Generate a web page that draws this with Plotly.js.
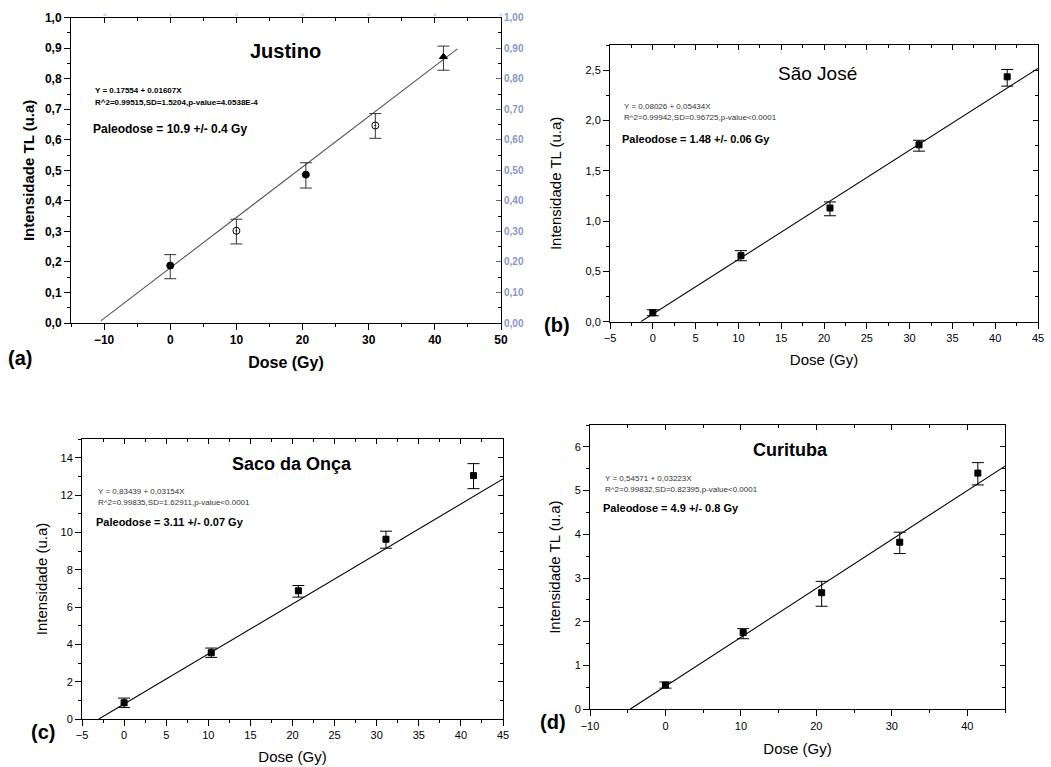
<!DOCTYPE html>
<html>
<head>
<meta charset="utf-8">
<script src="https://cdn.plot.ly/plotly-3.0.1.min.js"></script>
<style>
html,body{margin:0;padding:0;background:#fff;}
#chart{width:1051px;height:767px;}
</style>
</head>
<body>
<div id="chart"></div>
<script>
// ---------- data ----------
// (a) Justino
const doseA   = [0, 10, 20.5, 31, 41.3];
const tlA     = [0.188, 0.302, 0.486, 0.647, 0.872];
const errUpA  = [0.036, 0.038, 0.039, 0.039, 0.035];
const errDnA  = [0.043, 0.043, 0.044, 0.042, 0.044];
const fitXA   = [-10.5, 43.4];
const fitYA   = [0.007, 0.898];
// (b) São José
const doseB   = [0, 10.3, 20.7, 31.1, 41.4];
const tlB     = [0.089, 0.656, 1.13, 1.758, 2.434];
const errUpB  = [0.03, 0.05, 0.06, 0.045, 0.073];
const errDnB  = [0.03, 0.05, 0.077, 0.063, 0.093];
const fitXB   = [-1.4, 45];
const fitYB   = [0, 2.517];
// (c) Saco da Onça
const doseC   = [0, 10.35, 20.7, 31.1, 41.5];
const tlC     = [0.87, 3.55, 6.87, 9.63, 13.04];
const errUpC  = [0.25, 0.25, 0.28, 0.43, 0.64];
const errDnC  = [0.25, 0.25, 0.34, 0.48, 0.70];
const fitXC   = [-3.0, 45];
const fitYC   = [0, 12.86];
// (d) Curituba
const doseD   = [0, 10.3, 20.7, 31.05, 41.4];
const tlD     = [0.554, 1.754, 2.666, 3.82, 5.40];
const errUpD  = [0.07, 0.09, 0.26, 0.23, 0.24];
const errDnD  = [0.07, 0.14, 0.31, 0.26, 0.27];
const fitXD   = [-4.7, 45];
const fitYD   = [0, 5.56];

const titles   = ['Justino', 'São José', 'Saco da Onça', 'Curituba'];
const eqTexts  = ['Y = 0.17554 + 0.01607X', 'Y = 0,08026 + 0,05434X', 'Y = 0,83439 + 0,03154X', 'Y = 0,54571 + 0,03223X'];
const statTexts= ['R^2=0.99515,SD=1.5204,p-value=4.0538E-4', 'R^2=0.99942,SD=0.96725,p-value<0.0001', 'R^2=0.99835,SD=1.62911,p-value<0.0001', 'R^2=0.99832,SD=0.82395,p-value<0.0001'];
const paleoTexts = ['Paleodose = 10.9 +/- 0.4 Gy', 'Paleodose = 1.48 +/- 0.06 Gy', 'Paleodose = 3.11 +/- 0.07 Gy', 'Paleodose = 4.9 +/- 0.8 Gy'];
const yTitles  = ['Intensidade TL (u.a)', 'Intensidade TL (u.a)', 'Intensidade (u.a)', 'Intensidade TL (u.a)'];
const xTitle   = 'Dose (Gy)';
const panelLabels = ['(a)', '(b)', '(c)', '(d)'];

// ---------- layout helpers ----------
const W = 1051, H = 767;
const fx = p => p / W;
const fy = p => 1 - p / H;
const FONT = 'Liberation Sans, Arial, Helvetica, sans-serif';

const panels = [
  {dose: doseA, tl: tlA, up: errUpA, dn: errDnA, fx_: fitXA, fy_: fitYA,
   box: [71, 501, 17.7, 323], xr: [-15, 50], yr: [0, 1.0], xd: 10, xm: 5, yd: 0.1, ym: 0.05, yfmt: '.1f',
   bold: true, titleSize: 20, titleBold: true, titlePos: [285, 51],
   eqPos: [93, 90, 102, 129], eqSize: 8, paleoSize: 12, labelPos: [20, 358], xTitlePos: 10, yStand: 6,
   tickSize: 12, axTitleSize: 15, lineColor: '#555', symbols: ['circle', 'circle-open-dot', 'circle', 'circle-open-dot', 'triangle-up'], msize: 7, errColor: '#333'},
  {dose: doseB, tl: tlB, up: errUpB, dn: errDnB, fx_: fitXB, fy_: fitYB,
   box: [610, 1038, 45, 321.7], xr: [-5, 45], yr: [0, 2.75], xd: 5, xm: 2.5, yd: 0.5, ym: 0.25, yfmt: '.1f',
   bold: false, titleSize: 19, titleBold: false, titlePos: [817, 74],
   eqPos: [622, 106, 117, 139], eqSize: 8, paleoSize: 11, labelPos: [557, 325], xTitlePos: 11, yStand: 20,
   tickSize: 11, axTitleSize: 15, lineColor: '#000', symbols: 'square', msize: 6, errColor: '#000'},
  {dose: doseC, tl: tlC, up: errUpC, dn: errDnC, fx_: fitXC, fy_: fitYC,
   box: [82, 503, 439, 719], xr: [-5, 45], yr: [0, 15], xd: 5, xm: 2.5, yd: 2, ym: 1, yfmt: 'd',
   bold: false, titleSize: 18, titleBold: true, titlePos: [292, 464],
   eqPos: [96, 491, 502, 522], eqSize: 8, paleoSize: 11, labelPos: [43, 732], xTitlePos: 11, yStand: 9,
   tickSize: 11, axTitleSize: 15, lineColor: '#000', symbols: 'square', msize: 6, errColor: '#000'},
  {dose: doseD, tl: tlD, up: errUpD, dn: errDnD, fx_: fitXD, fy_: fitYD,
   box: [590, 1005, 425, 709.3], xr: [-10, 45], yr: [0, 6.5], xd: 10, xm: 5, yd: 1, ym: 0.5, yfmt: 'd',
   bold: false, titleSize: 18, titleBold: true, titlePos: [790, 450],
   eqPos: [603, 478, 489, 508], eqSize: 8, paleoSize: 11, labelPos: [553, 722], xTitlePos: 12, yStand: 10,
   tickSize: 11, axTitleSize: 15, lineColor: '#000', symbols: 'square', msize: 6, errColor: '#000'}
];

const axName = (c, id) => (id === 1 ? c : c + id);
const axKey = (c, id) => (id === 1 ? c + 'axis' : c + 'axis' + id);

const data = [];
const layout = {
  width: W, height: H,
  margin: {l: 0, r: 0, t: 0, b: 0},
  paper_bgcolor: '#fff', plot_bgcolor: 'rgba(0,0,0,0)',
  showlegend: false,
  separators: ',.',
  font: {family: FONT, color: '#000'},
  annotations: []
};

panels.forEach((p, k) => {
  const mx = 2 * k + 1, tx = 2 * k + 2;
  const my = 2 * k + 1, ry = 2 * k + 2;
  const xdom = [fx(p.box[0]), fx(p.box[1])];
  const ydom = [fy(p.box[3]), fy(p.box[2])];
  const weight = p.bold ? 'bold' : 'normal';
  const tickfont = {family: FONT, size: p.tickSize, color: '#000', weight: weight};

  // fitted line
  data.push({type: 'scatter', mode: 'lines', x: p.fx_, y: p.fy_,
    xaxis: axName('x', mx), yaxis: axName('y', my),
    line: {color: p.lineColor, width: 1.1}, hoverinfo: 'skip'});
  // measured points with error bars
  data.push({type: 'scatter', mode: 'markers', x: p.dose, y: p.tl,
    xaxis: axName('x', mx), yaxis: axName('y', my),
    marker: {symbol: p.symbols, size: p.msize, color: '#000', line: {color: '#000', width: 1}},
    error_y: {type: 'data', symmetric: false, array: p.up, arrayminus: p.dn,
      color: p.errColor, thickness: 1, width: 6}});
  // invisible copy so that the mirror (top / right) axes are drawn
  data.push({type: 'scatter', mode: 'markers', x: p.dose, y: p.tl,
    xaxis: axName('x', tx), yaxis: axName('y', ry),
    marker: {size: 1, opacity: 0}, hoverinfo: 'skip'});

  layout[axKey('x', mx)] = {
    domain: xdom, anchor: axName('y', my), range: p.xr,
    showline: true, linecolor: '#000', linewidth: 1, mirror: false,
    ticks: 'outside', ticklen: 6, tickwidth: 1, tickcolor: '#000',
    tick0: 0, dtick: p.xd,
    minor: {ticks: 'outside', ticklen: 3, tickwidth: 1, tickcolor: '#000', dtick: p.xm, tick0: 0, showgrid: false},
    showgrid: false, zeroline: false, tickfont: tickfont, automargin: false,
    title: {text: xTitle, font: {family: FONT, size: p.axTitleSize + (p.bold ? 1 : 0), weight: weight, color: '#000'}, standoff: p.xTitlePos}
  };
  layout[axKey('x', tx)] = {
    overlaying: axName('x', mx), anchor: axName('y', ry), side: 'top', range: p.xr,
    showline: true, linecolor: '#000', linewidth: 1,
    ticks: 'inside', ticklen: 5, tickwidth: 1, tickcolor: '#000', tick0: 0, dtick: p.xd,
    minor: {ticks: 'inside', ticklen: 3, tickwidth: 1, tickcolor: '#000', dtick: p.xm, tick0: 0, showgrid: false},
    showgrid: false, zeroline: false, automargin: false,
    showticklabels: k === 0,
    tickfont: {family: FONT, size: 3, color: '#7fa3d6'}
  };
  layout[axKey('y', my)] = {
    domain: ydom, anchor: axName('x', mx), range: p.yr,
    showline: true, linecolor: '#000', linewidth: 1, mirror: false,
    ticks: 'outside', ticklen: 6, tickwidth: 1, tickcolor: '#000',
    tick0: 0, dtick: p.yd, tickformat: p.yfmt,
    minor: {ticks: 'outside', ticklen: 3, tickwidth: 1, tickcolor: '#000', dtick: p.ym, tick0: 0, showgrid: false},
    showgrid: false, zeroline: false, tickfont: tickfont, automargin: false,
    title: {text: yTitles[k], font: {family: FONT, size: p.axTitleSize, weight: weight, color: '#000'}, standoff: p.yStand}
  };
  layout[axKey('y', ry)] = {
    overlaying: axName('y', my), anchor: axName('x', tx), side: 'right', range: p.yr,
    showline: true, linecolor: '#000', linewidth: 1,
    ticks: 'inside', ticklen: 5, tickwidth: 1, tickcolor: k === 0 ? '#666' : '#000', tick0: 0, dtick: p.yd,
    minor: {ticks: 'inside', ticklen: 3, tickwidth: 1, tickcolor: '#000', dtick: p.ym, tick0: 0, showgrid: false},
    showgrid: false, zeroline: false, automargin: false,
    showticklabels: k === 0, tickformat: '.2f',
    tickfont: {family: FONT, size: 10, color: '#8796c4', weight: 'bold'}
  };

  // text annotations
  layout.annotations.push({xref: 'paper', yref: 'paper', x: fx(p.titlePos[0]), y: fy(p.titlePos[1]),
    xanchor: 'center', yanchor: 'middle', showarrow: false, text: titles[k],
    font: {family: FONT, size: p.titleSize, weight: p.titleBold ? 'bold' : 'normal', color: '#000'}});
  layout.annotations.push({xref: 'paper', yref: 'paper', x: fx(p.eqPos[0]), y: fy(p.eqPos[1]),
    xanchor: 'left', yanchor: 'middle', showarrow: false, text: eqTexts[k],
    font: {family: FONT, size: p.eqSize, weight: weight, color: p.bold ? '#000' : '#333'}});
  layout.annotations.push({xref: 'paper', yref: 'paper', x: fx(p.eqPos[0]), y: fy(p.eqPos[2]),
    xanchor: 'left', yanchor: 'middle', showarrow: false, text: statTexts[k],
    font: {family: FONT, size: p.eqSize, weight: weight, color: p.bold ? '#000' : '#333'}});
  layout.annotations.push({xref: 'paper', yref: 'paper', x: fx(p.eqPos[0] - 2), y: fy(p.eqPos[3]),
    xanchor: 'left', yanchor: 'middle', showarrow: false, text: paleoTexts[k],
    font: {family: FONT, size: p.paleoSize, weight: 'bold', color: '#000'}});
  layout.annotations.push({xref: 'paper', yref: 'paper', x: fx(p.labelPos[0]), y: fy(p.labelPos[1]),
    xanchor: 'center', yanchor: 'middle', showarrow: false, text: panelLabels[k],
    font: {family: FONT, size: 20, weight: 'bold', color: '#000'}});
});

Plotly.newPlot('chart', data, layout, {staticPlot: true, displayModeBar: false});
</script>
</body>
</html>
